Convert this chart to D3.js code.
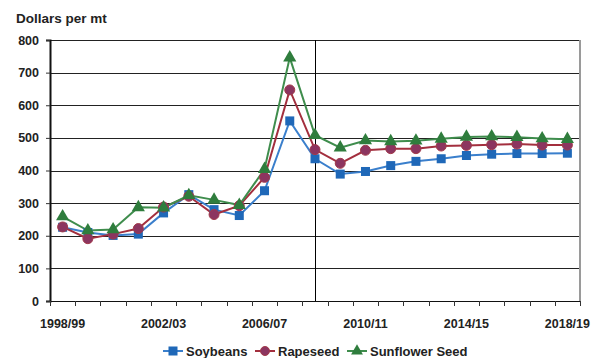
<!DOCTYPE html>
<html>
<head>
<meta charset="utf-8">
<script src="https://cdn.jsdelivr.net/npm/d3@7"></script>
<style>
  html, body { margin: 0; padding: 0; background: #fff; }
  svg { display: block; font-family: "Liberation Sans", Arial, sans-serif; font-weight: bold; }
</style>
</head>
<body>
<svg id="chart" width="602" height="358"></svg>
<script>
// Marketing years shown on the horizontal axis
const years = ["1998/99","1999/00","2000/01","2001/02","2002/03","2003/04","2004/05",
  "2005/06","2006/07","2007/08","2008/09","2009/10","2010/11","2011/12","2012/13",
  "2013/14","2014/15","2015/16","2016/17","2017/18","2018/19"];
const tickLabels = ["1998/99","2002/03","2006/07","2010/11","2014/15","2018/19"];
const yTicks = [0, 100, 200, 300, 400, 500, 600, 700, 800];

// Prices, dollars per metric ton
const soybeans  = [226, 210, 201, 205, 270, 326, 280, 262, 338, 552, 436, 389, 397, 415, 428, 436, 446, 450, 452, 452, 453];
const rapeseed  = [227, 191, 205, 222, 288, 321, 265, 292, 379, 647, 464, 422, 462, 467, 467, 475, 477, 479, 481, 478, 478];
const sunflower = [259, 216, 219, 287, 286, 324, 310, 294, 404, 746, 508, 470, 492, 489, 491, 497, 503, 504, 502, 498, 496];

const series = [
  { name: "Soybeans", values: soybeans, line: "#3a7fcc", fill: "#1f68b8", shape: "square" },
  { name: "Rapeseed", values: rapeseed, line: "#a32f3e", fill: "#8c3560", shape: "circle" },
  { name: "Sunflower Seed", values: sunflower, line: "#3f8d4d", fill: "#2f7d3d", shape: "triangle" }
];
const forecastStart = "2008/09";

const svg = d3.select("#chart");
const margin = { left: 50, right: 22, top: 40, bottom: 57 };
const W = 602, H = 358;
const x0 = margin.left, x1 = W - margin.right;
const y0 = H - margin.bottom, y1 = margin.top;

const x = d3.scaleBand().domain(years).range([x0, x1]).padding(0);
const y = d3.scaleLinear().domain([0, 800]).range([y0, y1]);
const cx = d => x(d) + x.bandwidth() / 2;

// Horizontal gridlines
svg.append("g").selectAll("line").data(yTicks.filter(v => v > 0)).join("line")
  .attr("x1", x0).attr("x2", x1)
  .attr("y1", v => Math.round(y(v)) + 0.5).attr("y2", v => Math.round(y(v)) + 0.5)
  .attr("stroke", "#222").attr("stroke-width", 1);

// Right frame edge
svg.append("line").attr("x1", x1).attr("x2", x1).attr("y1", y1).attr("y2", y0)
  .attr("stroke", "#9a9a9a").attr("stroke-width", 2);

// Divider between historical and projected years
svg.append("line")
  .attr("x1", Math.round(cx(forecastStart)) + 0.5).attr("x2", Math.round(cx(forecastStart)) + 0.5)
  .attr("y1", y1).attr("y2", y0).attr("stroke", "#000").attr("stroke-width", 1);

// Y axis
const yAxis = d3.axisLeft(y).tickValues(yTicks).tickSize(4).tickPadding(7);
const gy = svg.append("g").attr("transform", `translate(${x0},0)`).call(yAxis);
gy.select(".domain").attr("stroke", "#111").attr("stroke-width", 2);
gy.selectAll(".tick line").attr("stroke", "#333");
gy.selectAll("text").attr("font-size", 12.5).attr("font-weight", "bold").attr("fill", "#222")
  .attr("font-family", "Liberation Sans, Arial, sans-serif");

// X axis: ticks on category boundaries, labels every fourth year
const bounds = years.map(d => x(d)).concat([x1]);
const gx = svg.append("g");
gx.append("line").attr("x1", x0).attr("x2", x1).attr("y1", y0 + 0.5).attr("y2", y0 + 0.5)
  .attr("stroke", "#111").attr("stroke-width", 1);
gx.selectAll("line.tk").data(bounds).join("line").attr("class", "tk")
  .attr("x1", d => Math.round(d) + 0.5).attr("x2", d => Math.round(d) + 0.5)
  .attr("y1", y0).attr("y2", y0 + 5).attr("stroke", "#333");
gx.selectAll("text").data(tickLabels).join("text")
  .attr("x", d => cx(d)).attr("y", y0 + 27)
  .attr("text-anchor", "middle").attr("font-size", 12.5).attr("fill", "#222")
  .text(d => d);

// Unit label
svg.append("text").attr("x", 16).attr("y", 23).attr("font-size", 13.5).attr("fill", "#222")
  .text("Dollars per mt");

// Marker drawing helper
function marker(g, shape, fill, size) {
  if (shape === "square") {
    g.append("rect").attr("x", -size / 2).attr("y", -size / 2).attr("width", size).attr("height", size)
      .attr("fill", fill);
  } else if (shape === "circle") {
    g.append("circle").attr("r", size / 2).attr("fill", fill).attr("stroke", "#a33a4a").attr("stroke-width", 1);
  } else {
    g.append("path").attr("d", d3.symbol(d3.symbolTriangle, size * size * 0.75)()).attr("fill", fill);
  }
}

const line = d3.line().x((d, i) => cx(years[i])).y(d => y(d));
series.forEach(s => {
  svg.append("path").datum(s.values).attr("d", line)
    .attr("fill", "none").attr("stroke", s.line).attr("stroke-width", 2);
});
series.forEach(s => {
  s.values.forEach((v, i) => {
    const g = svg.append("g").attr("transform", `translate(${cx(years[i])},${y(v)})`);
    marker(g, s.shape, s.fill, s.shape === "square" ? 9 : 10);
  });
});

// Legend
const legendItems = [
  { s: series[0], lx: 163 },
  { s: series[1], lx: 255 },
  { s: series[2], lx: 347 }
];
legendItems.forEach(({ s, lx }) => {
  const ly = 351;
  svg.append("line").attr("x1", lx).attr("x2", lx + 20).attr("y1", ly).attr("y2", ly)
    .attr("stroke", s.line).attr("stroke-width", 2);
  const g = svg.append("g").attr("transform", `translate(${lx + 10},${ly})`);
  marker(g, s.shape, s.fill, 9);
  svg.append("text").attr("x", lx + 23).attr("y", ly + 5).attr("font-size", 13).attr("fill", "#222")
    .text(s.name);
});
</script>
</body>
</html>
